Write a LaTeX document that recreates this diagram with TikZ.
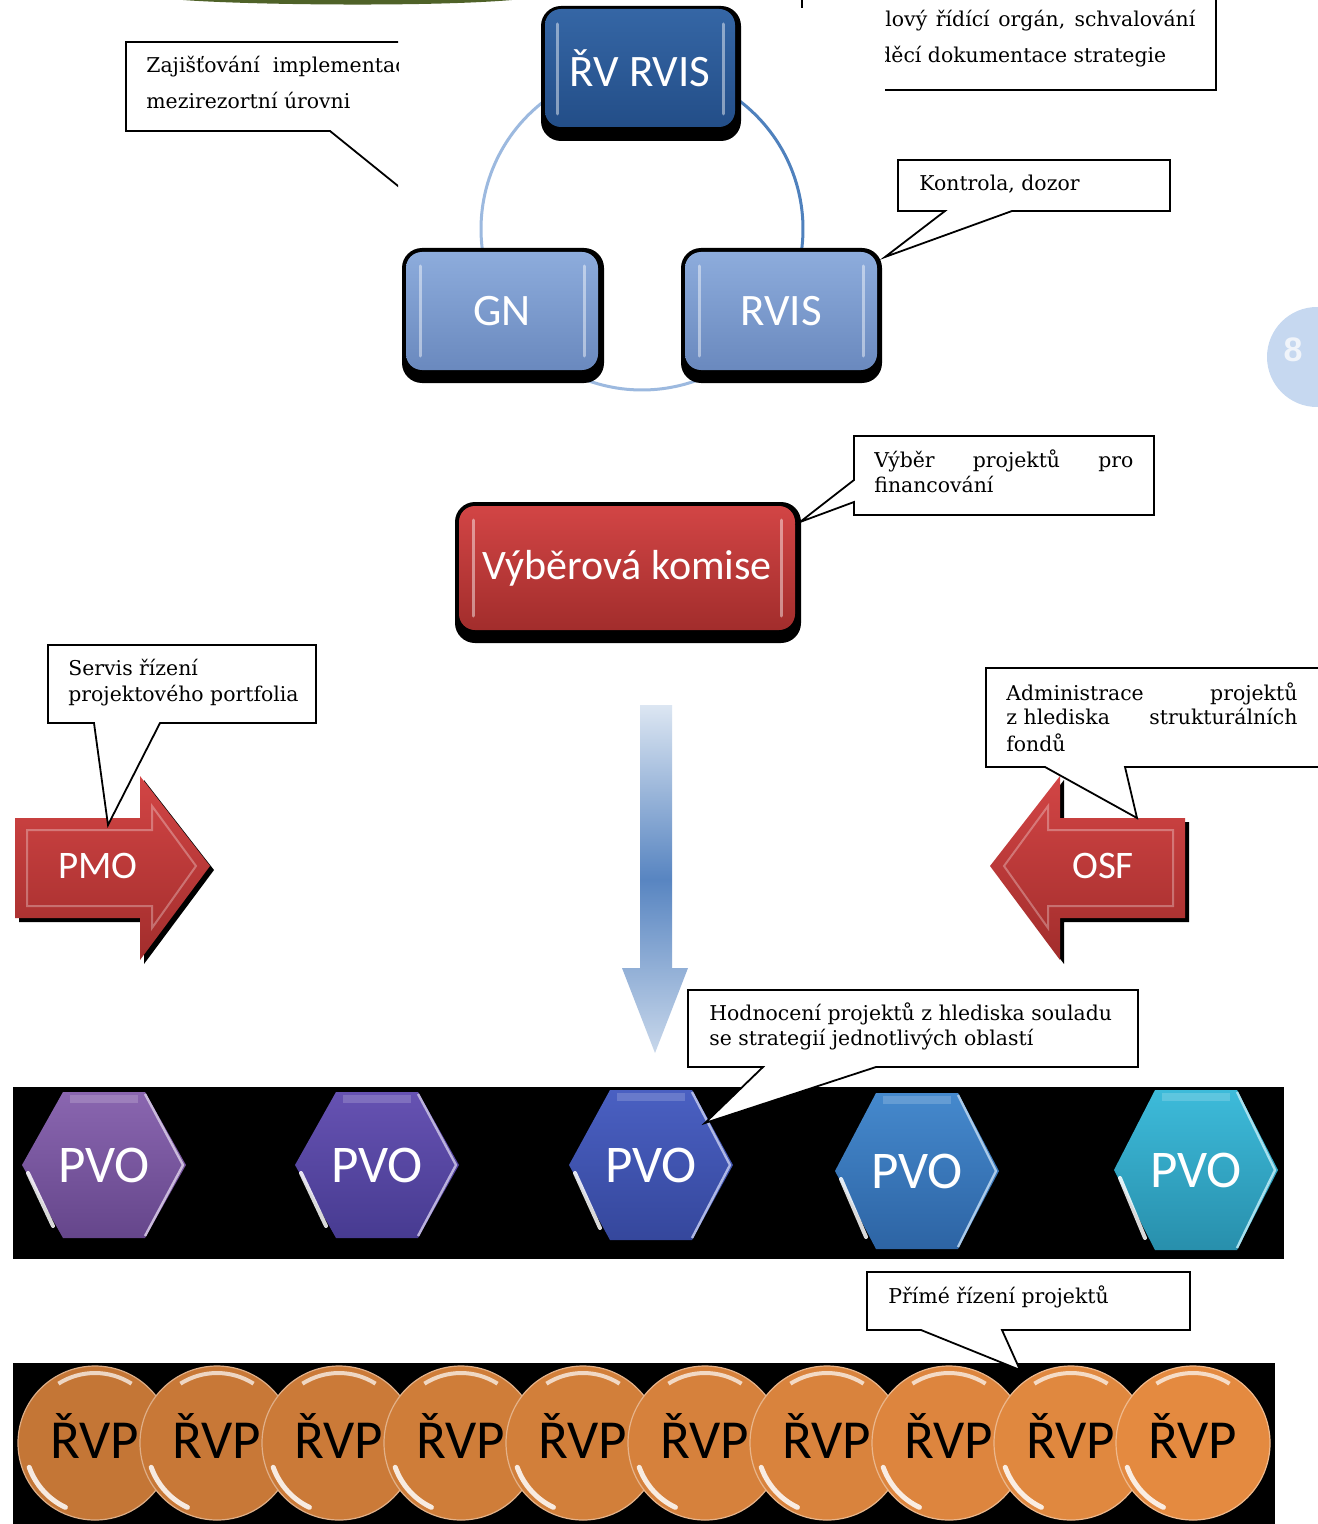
\documentclass[tikz,border=0pt]{standalone}
\usepackage{fontspec}
\setmainfont{DejaVu Serif}
\newfontfamily\calfont{Carlito}
\newfontfamily\numfont{Liberation Sans}
\usetikzlibrary{shapes.geometric,calc}
\definecolor{olivec}{HTML}{4F6228}
\definecolor{rvtop}{HTML}{3566A5}
\definecolor{rvbot}{HTML}{234E88}
\definecolor{gntop}{HTML}{8DACDC}
\definecolor{gnbot}{HTML}{6A89BE}
\definecolor{redtop}{HTML}{D24545}
\definecolor{redbot}{HTML}{A22D2C}
\definecolor{arcL}{HTML}{9CB9DF}
\definecolor{arcR}{HTML}{4F81BD}
\definecolor{pagec}{HTML}{C6D8F0}
\definecolor{pagetxt}{HTML}{F0F4FA}
\definecolor{arrL}{HTML}{DCE6F2}
\definecolor{arrM}{HTML}{5885C1}
\definecolor{h1t}{HTML}{8A66B0}\definecolor{h1b}{HTML}{65468B}
\definecolor{h2t}{HTML}{6652B2}\definecolor{h2b}{HTML}{473B91}
\definecolor{h3t}{HTML}{4A60C2}\definecolor{h3b}{HTML}{35479C}
\definecolor{h4t}{HTML}{4589CD}\definecolor{h4b}{HTML}{2D64A4}
\definecolor{h5t}{HTML}{3DBBDA}\definecolor{h5b}{HTML}{288FAC}
\definecolor{orA}{RGB}{196,118,54}
\definecolor{orB}{RGB}{228,138,64}
\begin{document}
\begin{tikzpicture}[x=0.5pt,y=-0.5pt,
  co/.style={draw=black, fill=white, line width=0.9pt, line join=miter},
  ctext/.style={font=\fontsize{10.2}{12}\selectfont, inner sep=0pt, anchor=base west},
  rbox/.style={rectangle, rounded corners=8pt, inner sep=0pt, text=white},
  shad/.style={fill=black, rounded corners=10pt},
  hextext/.style={font=\calfont\fontsize{26.5}{30}\selectfont, text=white, inner sep=0pt},
  coin/.style={ellipse, minimum width=77pt, minimum height=77pt, inner sep=0pt},
  cointext/.style={font=\calfont\fontsize{27.5}{30}\selectfont, text=black, inner sep=0pt},
  bev/.style={white, opacity=0.45, line width=1.5pt, line cap=round}
]
\useasboundingbox (0,0) rectangle (1317,1524);
\fill[white] (0,0) rectangle (1317,1524);

% olive band at top
\fill[olivec] (183,0) .. controls (250,5) and (430,7) .. (512,0) -- cycle;

% circle of connectors
\coordinate (ctr) at (642,229);
\draw[arcL, line width=1.5pt] ([shift={(642,229)}]173.2:161) arc[start angle=173.2, end angle=234.5, radius=161];
\draw[arcR, line width=1.5pt] ([shift={(642,229)}]-54.8:161) arc[start angle=-54.8, end angle=6.8, radius=161];
\draw[arcL, line width=1.5pt] ([shift={(642,229)}]62:161) arc[start angle=62, end angle=118.3, radius=161];

% top boxes
\fill[shad] (541,6) rectangle (741,141);
\node[rbox, top color=rvtop, bottom color=rvbot, minimum width=95pt, minimum height=59pt, font=\calfont\fontsize{22.5}{26}\selectfont] (rv) at (640,68) {ŘV RVIS};
\draw[bev] (557,24) -- (557,114); \draw[bev] (723,24) -- (723,114);

\fill[shad] (402,248) rectangle (604,383);
\node[rbox, top color=gntop, bottom color=gnbot, minimum width=96pt, minimum height=59pt, font=\calfont\fontsize{22.5}{26}\selectfont] (gn) at (502,311) {GN};
\draw[bev] (420,266) -- (420,356); \draw[bev] (584,266) -- (584,356);

\fill[shad] (681,248) rectangle (882,383);
\node[rbox, top color=gntop, bottom color=gnbot, minimum width=96pt, minimum height=59pt, font=\calfont\fontsize{22.5}{26}\selectfont] (rvis) at (781,311) {RVIS};
\draw[bev] (699,266) -- (699,356); \draw[bev] (863,266) -- (863,356);

% page number
\fill[pagec] (1317,357) circle[radius=50];
\node[font=\numfont\bfseries\fontsize{17}{20}\selectfont, text=pagetxt] (pg) at (1293,350) {8};

% red box
\fill[shad] (455,502) rectangle (801,643);
\node[rbox, top color=redtop, bottom color=redbot, minimum width=168pt, minimum height=62pt, font=\calfont\fontsize{21}{25}\selectfont] (vk) at (627,568) {Výběrová komise};
\draw[bev] (473,520) -- (473,616); \draw[bev] (781,520) -- (781,616);

% PMO arrow
\fill[black] (19,822) -- (144,822) -- (144,780) -- (214,870) -- (144,964) -- (144,922) -- (19,922) -- cycle;
\shade[top color=redtop, bottom color=redbot] (15,818) -- (140,818) -- (140,776) -- (210,866) -- (140,960) -- (140,918) -- (15,918) -- cycle;
\draw[white, opacity=.3, line width=1pt] (27,830) -- (152,830) -- (152,806) -- (196,866) -- (152,928) -- (152,906) -- (27,906) -- cycle;
\node[font=\calfont\fontsize{19.5}{22}\selectfont, text=white] (pmo) at (98,866) {PMO};

% OSF arrow
\fill[black] (1189,822) -- (1064,822) -- (1064,780) -- (994,870) -- (1064,964) -- (1064,922) -- (1189,922) -- cycle;
\shade[top color=redtop, bottom color=redbot] (1185,818) -- (1060,818) -- (1060,776) -- (990,866) -- (1060,960) -- (1060,918) -- (1185,918) -- cycle;
\draw[white, opacity=.3, line width=1pt] (1173,830) -- (1048,830) -- (1048,806) -- (1004,866) -- (1048,928) -- (1048,906) -- (1173,906) -- cycle;
\node[font=\calfont\fontsize{19.5}{22}\selectfont, text=white] (osf) at (1103,866) {OSF};

% down arrow
\shade[top color=arrL, bottom color=arrL!85!arrM, middle color=arrM] (640,705) -- (672,705) -- (672,968) -- (688,968) -- (655,1053) -- (622,968) -- (640,968) -- cycle;

% PVO band
\fill[black] (13,1087) rectangle (1284,1259);
\foreach \cx/\cy/\hh/\ct/\cb/\nm in {104/1165/73/h1t/h1b/p1, 377/1165/73/h2t/h2b/p2, 651/1165/75/h3t/h3b/p3, 917/1171/78/h4t/h4b/p4, 1196/1170/80/h5t/h5b/p5}{
  \begin{scope}[shift={(\cx,\cy)}]
  \shade[top color=\ct, bottom color=\cb] (-82,0) -- (-41,-\hh) -- (41,-\hh) -- (82,0) -- (41,\hh) -- (-41,\hh) -- cycle;
  \draw[draw=\ct!45!white, line width=1.2pt, line join=round] (41,-\hh+2) -- (79,0) -- (41,\hh-2);
  \draw[white, opacity=.85, line width=2pt, line cap=round] (-76,8) -- (-51,\hh-12);
  \draw[draw=\ct!50!white, opacity=.35, line width=4pt] (-34,-\hh+7) -- (34,-\hh+7);
  \end{scope}
  \node[hextext] (\nm) at (\cx,\cy) {PVO};
}

% RVP band
\fill[black] (13,1363) rectangle (1275,1524);
\foreach \i in {0,...,9}{
  \pgfmathsetmacro{\xx}{95+122*\i}
  \pgfmathtruncatemacro{\pp}{100-11*\i}
  \colorlet{coinc}{orA!\pp!orB}
  \node[coin, fill=coinc, draw=coinc!60!white, line width=.6pt] (v\i) at (\xx,1443) {};
  \draw[white, opacity=.7, line width=2pt] ([shift={(\xx,1443)}]238:69 and 70) arc[start angle=238, end angle=302, x radius=69, y radius=70];
  \draw[white, opacity=.85, line width=2.5pt, line cap=round] ([shift={(\xx,1443)}]115:70 and 71) arc[start angle=115, end angle=160, x radius=70, y radius=71];
  \node[cointext] (w\i) at (\xx,1436) {ŘVP};
}

% ---------- callouts ----------
% top-left (clipped)
\begin{scope}
\clip (0,0) rectangle (398,300);
\fill[white] (126,42) rectangle (420,131);
\draw[co, fill=none] (420,42) -- (126,42) -- (126,131) -- (330,131) -- (450,228);
\node[ctext] (zaj1) at (146,73) {Zajišťování\ \ implementace};
\node[ctext] (zaj2) at (146,109) {mezirezortní úrovni};
\end{scope}

% top-right (clipped)
\draw[co] (802,-5) -- (802,8);
\begin{scope}
\clip (885,0) rectangle (1317,200);
\fill[white] (860,0) rectangle (1216,90);
\draw[co, fill=none] (1216,-5) -- (1216,90) -- (860,90);
\node[ctext] (vr1) at (885,27) {\makebox[155pt][s]{lový řídící orgán, schvalování}};
\node[ctext] (vr2) at (878,63) {děcí dokumentace strategie};
\end{scope}

% Kontrola
\draw[co] (898,160) -- (1170,160) -- (1170,211) -- (1012,211) -- (885,257) -- (945,211) -- (898,211) -- cycle;
\node[ctext] (ko) at (919,191) {Kontrola, dozor};

% Vyber
\draw[co] (854,436) -- (1154,436) -- (1154,515) -- (854,515) -- (854,502) -- (800,522) -- (854,480) -- cycle;
\node[ctext] (vb1) at (874,467) {\makebox[129.5pt][s]{Výběr projektů pro}};
\node[ctext] (vb2) at (874,492) {financování};

% Servis
\draw[co] (48,645) -- (316,645) -- (316,723) -- (160,723) -- (108,825) -- (94,723) -- (48,723) -- cycle;
\node[ctext] (se1) at (68,675) {Servis řízení};
\node[ctext] (se2) at (68,701) {projektového portfolia};

% Administrace
\fill[white] (986,668) rectangle (1330,767);
\draw[co] (1330,668) -- (986,668) -- (986,767) -- (1045,767) -- (1137,818) -- (1125,767) -- (1330,767);
\node[ctext] (ad1) at (1006,700) {\makebox[145.5pt][s]{Administrace projektů}};
\node[ctext] (ad2) at (1006,724) {\makebox[145.5pt][s]{\mbox{z hlediska} strukturálních}};
\node[ctext] (ad3) at (1006,751) {fondů};

% Hodnoceni
\draw[co] (688,990) -- (1138,990) -- (1138,1067) -- (876,1067) -- (705,1123) -- (763,1067) -- (688,1067) -- cycle;
\node[ctext] (ho1) at (709,1020) {Hodnocení projektů z hlediska souladu};
\node[ctext] (ho2) at (709,1045) {se strategií jednotlivých oblastí};

% Prime rizeni
\draw[co] (867,1272) -- (1190,1272) -- (1190,1330) -- (1002,1330) -- (1020,1370) -- (921,1330) -- (867,1330) -- cycle;
\node[ctext] (pr) at (888,1303) {Přímé řízení projektů};
\end{tikzpicture}
\end{document}
